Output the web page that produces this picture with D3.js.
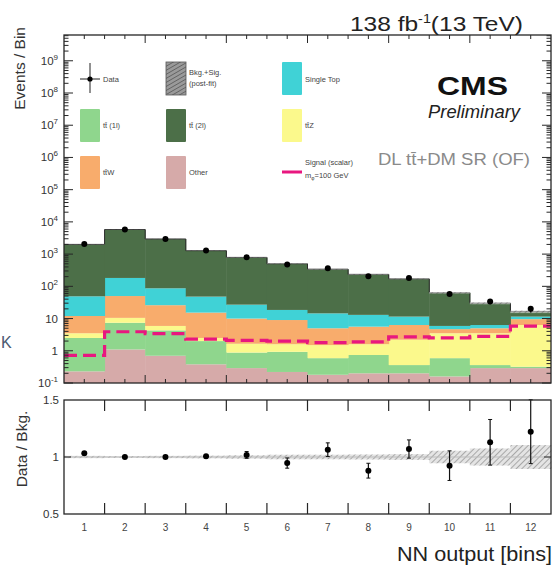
<!DOCTYPE html>
<html><head><meta charset="utf-8">
<script src="https://cdn.jsdelivr.net/npm/d3@7"></script>
<style>body{margin:0;background:#fff}svg{display:block;font-family:"Liberation Sans",Arial,sans-serif}</style>
</head><body><svg id="c" width="554" height="567"></svg>
<script>
const bins = [1,2,3,4,5,6,7,8,9,10,11,12];
const tickLabels = ["1","2","3","4","5","6","7","8","9","10","11","12"];
// stacked background contributions, bottom to top
const other     = [0.23,1.1,0.7,0.38,0.29,0.22,0.18,0.2,0.2,0.16,0.29,0.29];
const tt1l      = [2.27,6.3,3.6,1.62,0.59,0.71,0.41,0.54,0.16,0.43,0.07,0.03];
const ttZ       = [1.0,3.1,1.6,0.5,0.77,0.67,0.91,0.86,1.84,2.91,3.14,5.98];
const ttW       = [8.5,39.5,20.1,12.8,8.35,7.4,3.5,4.0,4.1,1.2,1.5,3.3];
const singleTop = [37,132,61,32.7,17,9.5,9.5,7.4,5.2,1.2,1.3,1.9];
const tt2l      = [1951,5618,2863,1232,763,481.5,325.5,222,158.5,57.1,23.7,5.0];
const signal    = [0.72,3.9,3.4,2.3,2.1,2.0,1.8,1.9,2.7,2.5,2.8,5.8];
const dataVals  = [2060,5800,2950,1290,805,475,362,207,182,58,34,20];
const ratio     = [1.032,1.0,1.0,1.006,1.018,0.947,1.064,0.88,1.07,0.924,1.129,1.222];
const ratioErr  = [0.012,0.008,0.01,0.015,0.03,0.045,0.06,0.065,0.08,0.13,0.2,0.28];
const bandErr   = [0.01,0.008,0.01,0.012,0.015,0.02,0.02,0.022,0.025,0.055,0.075,0.105];
const yTickVals = [0.1,1,10,1e2,1e3,1e4,1e5,1e6,1e7,1e8,1e9];
const yTickText = [["10","-1"],["1",""],["10",""],["10","2"],["10","3"],["10","4"],["10","5"],["10","6"],["10","7"],["10","8"],["10","9"]];
const ratioTicks = [0.5,1,1.5];
const ratioTickText = ["0.5","1","1.5"];

const seriesKeys = ["other","tt1l","ttZ","ttW","singleTop","tt2l"];
const seriesData = {other,tt1l,ttZ,ttW,singleTop,tt2l};
const colors = {other:"#d6aaa9",tt1l:"#8fd68d",ttZ:"#fbf98c",ttW:"#f8ac6c",singleTop:"#40d2d6",tt2l:"#4c6f48"};
const sigColor = "#e8177f";

const svg = d3.select("#c");
const L = 64, R = 551, T1 = 35, B1 = 383, T2 = 400, B2 = 514;
const x = d3.scaleLinear().domain([0,12]).range([L,R]);
const y = d3.scaleLog().domain([0.1, Math.pow(10,9.8)]).range([B1,T1]);
const yr = d3.scaleLinear().domain([0.5,1.5]).range([B2,T2]);

const defs = svg.append("defs");
const pat = defs.append("pattern").attr("id","hatch").attr("patternUnits","userSpaceOnUse")
  .attr("width",4).attr("height",4).attr("patternTransform","rotate(45)");
pat.append("rect").attr("width",4).attr("height",4).attr("fill","#e4e4e4");
pat.append("line").attr("x1",0).attr("y1",0).attr("x2",0).attr("y2",4).attr("stroke","#999").attr("stroke-width",1.6);
const pat2 = defs.append("pattern").attr("id","hatchDark").attr("patternUnits","userSpaceOnUse")
  .attr("width",3.5).attr("height",3.5).attr("patternTransform","rotate(60)");
pat2.append("rect").attr("width",3.5).attr("height",3.5).attr("fill","#9a9a9a");
pat2.append("line").attr("x1",0).attr("y1",0).attr("x2",0).attr("y2",3.5).attr("stroke","#555").attr("stroke-width",1.4);
defs.append("clipPath").attr("id","clip1").append("rect").attr("x",L).attr("y",T1).attr("width",R-L).attr("height",B1-T1);

// stacked histogram
const table = bins.map((b,i)=>{const o={bin:b}; seriesKeys.forEach(k=>o[k]=seriesData[k][i]); return o;});
const stack = d3.stack().keys(seriesKeys)(table);
const g1 = svg.append("g").attr("clip-path","url(#clip1)");
stack.forEach(layer=>{
  g1.selectAll(null).data(layer).enter().append("rect")
    .attr("x",(d,i)=>x(i)).attr("width",(d,i)=>x(i+1)-x(i)+0.5)
    .attr("y",d=>y(d[1]))
    .attr("height",d=>Math.max(0,(d[0]<=0.1? B1 : y(d[0])) - y(d[1])))
    .attr("fill",colors[layer.key]);
});
const totals = table.map(d=>seriesKeys.reduce((s,k)=>s+d[k],0));
const stepPts = [];
totals.forEach((t,i)=>{stepPts.push([x(i),y(t)]);stepPts.push([x(i+1),y(t)]);});
g1.append("path").attr("d",d3.line()(stepPts)).attr("fill","none").attr("stroke","#2a2a2a").attr("stroke-width",1);
g1.selectAll(null).data(totals).enter().append("rect")
  .attr("x",(d,i)=>x(i)).attr("width",(d,i)=>x(i+1)-x(i))
  .attr("y",(d,i)=>y(d*(1+bandErr[i]))).attr("height",(d,i)=>y(d*(1-bandErr[i]))-y(d*(1+bandErr[i])))
  .attr("fill","url(#hatch)").attr("opacity",0.6);
const sigPts = [];
signal.forEach((s,i)=>{sigPts.push([x(i),y(s)]);sigPts.push([x(i+1),y(s)]);});
g1.append("path").attr("d",d3.line()(sigPts)).attr("fill","none").attr("stroke",sigColor)
  .attr("stroke-width",3.2).attr("stroke-dasharray","13,6");
svg.selectAll(null).data(dataVals).enter().append("line")
  .attr("x1",(d,i)=>x(i+0.5)).attr("x2",(d,i)=>x(i+0.5))
  .attr("y1",(d,i)=>y(d*(1+ratioErr[i]/ratio[i]))).attr("y2",(d,i)=>y(d*(1-ratioErr[i]/ratio[i])))
  .attr("stroke","#000").attr("stroke-width",1.2);
svg.selectAll(null).data(dataVals).enter().append("circle")
  .attr("cx",(d,i)=>x(i+0.5)).attr("cy",d=>y(d)).attr("r",3).attr("fill","#000");

const frameCol = "#262626";
svg.append("rect").attr("x",L).attr("y",T1).attr("width",R-L).attr("height",B1-T1)
  .attr("fill","none").attr("stroke",frameCol).attr("stroke-width",1.3);
const xMinor = d3.range(0.5,12,0.5);
xMinor.forEach(v=>{
  const len = (v%2===0)?8:4;
  svg.append("line").attr("x1",x(v)).attr("x2",x(v)).attr("y1",B1).attr("y2",B1-len).attr("stroke",frameCol);
  svg.append("line").attr("x1",x(v)).attr("x2",x(v)).attr("y1",T1).attr("y2",T1+len).attr("stroke",frameCol);
});
const yMinor = [];
for(let e=-1;e<=9;e++){for(let m=1;m<=9;m++){const v=m*Math.pow(10,e); if(v>=0.1 && v<=Math.pow(10,9.8)) yMinor.push([v,m===1]);}}
yMinor.forEach(([v,maj])=>{
  const len = maj?9:4.5;
  svg.append("line").attr("x1",L).attr("x2",L+len).attr("y1",y(v)).attr("y2",y(v)).attr("stroke",frameCol);
  svg.append("line").attr("x1",R).attr("x2",R-len).attr("y1",y(v)).attr("y2",y(v)).attr("stroke",frameCol);
});
yTickVals.forEach((v,i)=>{
  const t = svg.append("text").attr("x",58).attr("y",y(v)+4).attr("text-anchor","end")
    .attr("font-size",11.5).attr("fill","#333");
  t.append("tspan").text(yTickText[i][0]);
  if(yTickText[i][1]) t.append("tspan").attr("dy",-5).attr("font-size",8).text(yTickText[i][1]);
});

// ratio panel
svg.selectAll(null).data(bandErr).enter().append("rect")
  .attr("x",(d,i)=>x(i)).attr("width",(d,i)=>x(i+1)-x(i)+0.3)
  .attr("y",d=>yr(1+d)).attr("height",d=>yr(1-d)-yr(1+d)).attr("fill","url(#hatch)");
svg.append("line").attr("x1",L).attr("x2",R).attr("y1",yr(1)).attr("y2",yr(1)).attr("stroke","#bbb").attr("stroke-width",1);
svg.selectAll(null).data(ratio).enter().append("line")
  .attr("x1",(d,i)=>x(i+0.5)).attr("x2",(d,i)=>x(i+0.5))
  .attr("y1",(d,i)=>yr(d+ratioErr[i])).attr("y2",(d,i)=>yr(d-ratioErr[i]))
  .attr("stroke","#111").attr("stroke-width",1.2);
[1,-1].forEach(s=>{
  svg.selectAll(null).data(ratio).enter().append("line")
    .attr("x1",(d,i)=>x(i+0.5)-2).attr("x2",(d,i)=>x(i+0.5)+2)
    .attr("y1",(d,i)=>yr(d+s*ratioErr[i])).attr("y2",(d,i)=>yr(d+s*ratioErr[i]))
    .attr("stroke","#111").attr("stroke-width",1);
});
svg.selectAll(null).data(ratio).enter().append("circle")
  .attr("cx",(d,i)=>x(i+0.5)).attr("cy",d=>yr(d)).attr("r",3).attr("fill","#000");
svg.append("rect").attr("x",L).attr("y",T2).attr("width",R-L).attr("height",B2-T2)
  .attr("fill","none").attr("stroke",frameCol).attr("stroke-width",1.3);
d3.range(1,12).forEach(v=>{
  svg.append("line").attr("x1",x(v)).attr("x2",x(v)).attr("y1",B2).attr("y2",B2-11).attr("stroke",frameCol).attr("stroke-width",1.2);
  svg.append("line").attr("x1",x(v)).attr("x2",x(v)).attr("y1",T2).attr("y2",T2+11).attr("stroke",frameCol).attr("stroke-width",1.2);
});
[1].forEach(v=>{
  svg.append("line").attr("x1",L).attr("x2",L+7).attr("y1",yr(v)).attr("y2",yr(v)).attr("stroke",frameCol);
  svg.append("line").attr("x1",R).attr("x2",R-7).attr("y1",yr(v)).attr("y2",yr(v)).attr("stroke",frameCol);
});
ratioTicks.forEach((v,i)=>{
  svg.append("text").attr("x",59).attr("y",yr(v)+4).attr("text-anchor","end").attr("font-size",11.5).attr("fill","#333").text(ratioTickText[i]);
});
bins.forEach((b,i)=>{
  svg.append("text").attr("x",x(i+0.5)).attr("y",531).attr("text-anchor","middle").attr("font-size",10).attr("fill","#444").text(tickLabels[i]);
});

// axis titles
svg.append("text").attr("transform","translate(25,27) rotate(-90)").attr("text-anchor","end")
  .attr("font-size",15.5).attr("fill","#333").text("Events / Bin");
svg.append("text").attr("transform","translate(27,449) rotate(-90)").attr("text-anchor","middle")
  .attr("font-size",15.5).attr("fill","#333").text("Data / Bkg.");
svg.append("text").attr("x",397).attr("y",561).attr("font-size",20).attr("fill","#222")
  .attr("textLength",155).attr("lengthAdjust","spacingAndGlyphs").text("NN output [bins]");
const lum = svg.append("text").attr("x",350).attr("y",31).attr("font-size",20.5).attr("fill","#222")
  .attr("textLength",173).attr("lengthAdjust","spacingAndGlyphs");
lum.append("tspan").text("138 fb");
lum.append("tspan").attr("dy",-8).attr("font-size",12).text("-1");
lum.append("tspan").attr("dy",8).text("(13 TeV)");
svg.append("text").attr("x",1).attr("y",348).attr("font-size",16).attr("fill","#4a5a70").text("K");

// CMS labels
svg.append("text").attr("x",437).attr("y",95).attr("font-size",26).attr("font-weight","bold").attr("fill","#111")
  .attr("textLength",71).attr("lengthAdjust","spacingAndGlyphs").text("CMS");
svg.append("text").attr("x",428).attr("y",118).attr("font-size",17.5).attr("font-style","italic").attr("fill","#222")
  .attr("textLength",92).attr("lengthAdjust","spacingAndGlyphs").text("Preliminary");
svg.append("text").attr("x",378).attr("y",165).attr("font-size",16).attr("fill","#8a8a8a")
  .attr("textLength",152).attr("lengthAdjust","spacingAndGlyphs").text("DL tt\u0304+DM SR (OF)");

// legend
const lg = svg.append("g").attr("font-size",7.5).attr("fill","#444");
function box(xx,yy,fill){lg.append("rect").attr("x",xx).attr("y",yy).attr("width",20).attr("height",33).attr("fill",fill).attr("rx",1);}
function txt(xx,yy,s){lg.append("text").attr("x",xx).attr("y",yy).text(s);}
lg.append("line").attr("x1",90).attr("x2",90).attr("y1",63).attr("y2",93).attr("stroke","#222");
lg.append("line").attr("x1",80).attr("x2",100).attr("y1",79).attr("y2",79).attr("stroke","#222");
lg.append("circle").attr("cx",90).attr("cy",79).attr("r",2.6).attr("fill","#000");
txt(103,81.5,"Data");
box(166,62,"url(#hatchDark)");
lg.append("rect").attr("x",166).attr("y",62).attr("width",20).attr("height",33).attr("fill","none").attr("stroke","#555").attr("stroke-width",0.8);
txt(189,75,"Bkg.+Sig."); txt(189,86,"(post-fit)");
box(282,62,colors.singleTop); txt(305,81.5,"Single Top");
box(80,109,colors.tt1l); txt(103,128,"tt\u0304 (1l)");
box(166,109,colors.tt2l); txt(189,128,"tt\u0304 (2l)");
box(282,109,colors.ttZ); txt(305,128,"tt\u0304Z");
box(80,156,colors.ttW); txt(103,175,"tt\u0304W");
box(166,156,colors.other); txt(189,175,"Other");
lg.append("line").attr("x1",282).attr("x2",302).attr("y1",172).attr("y2",172).attr("stroke",sigColor).attr("stroke-width",3);
txt(305,165,"Signal (scalar)");
const mt = lg.append("text").attr("x",305).attr("y",178);
mt.append("tspan").text("m");
mt.append("tspan").attr("font-size",5).attr("dy",2).text("\u03c6");
mt.append("tspan").attr("dy",-2).text("=100 GeV");
</script></body></html>
